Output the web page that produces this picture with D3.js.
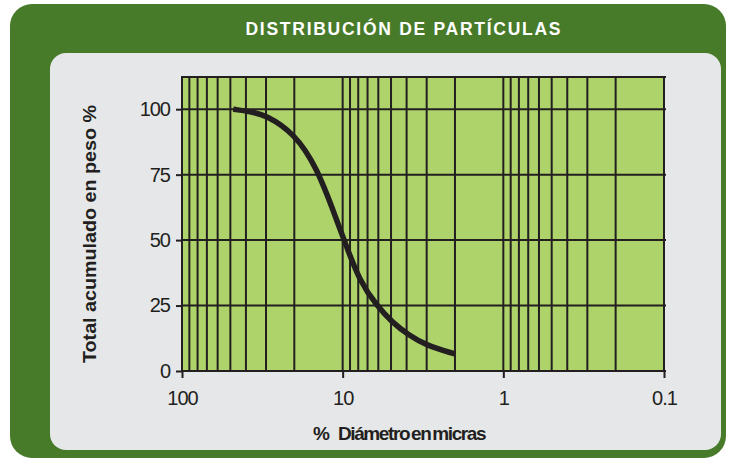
<!DOCTYPE html>
<head>
<meta charset="utf-8">
<style>
body { margin: 0; background: #fff; }
svg { display: block; font-family: "Liberation Sans", Arial, sans-serif; }
.grid line { stroke: #231f20; stroke-width: 2px; }
.axis path { display: none; }
.axis line { stroke: #231f20; stroke-width: 2px; }
.axis text { font-size: 20px; fill: #231f20; letter-spacing: -1px; }
.curve { fill: none; stroke: #231f20; stroke-width: 5.5px; }
</style>
<script src="https://cdn.jsdelivr.net/npm/d3@7"></script>
</head>
<body>
<svg width="738" height="459"></svg>
<script>

// particle size (micras) and cumulative weight %
var diameters = [48, 37.7, 30, 20, 14.5, 10.9, 9.65, 7.8, 6.1, 4.9, 3.9, 3.05, 2];
var cumulative = [100, 99.1, 97.8, 90.8, 78, 57.7, 48.9, 34, 24.8, 18.5, 13.8, 9.9, 6.5];
var xTickValues = [100, 10, 1, 0.1];
var xTickLabels = ["100", "10", "1", "0.1"];
var yTickValues = [0, 25, 50, 75, 100];

var svg = d3.select("svg"),
    margin = {top: 77, right: 74, bottom: 88, left: 182},
    width = svg.attr("width") - margin.left - margin.right,
    height = svg.attr("height") - margin.top - margin.bottom;

// frame
svg.append("rect")
    .attr("x", 10).attr("y", 4)
    .attr("width", 716).attr("height", 454)
    .attr("rx", 22)
    .attr("fill", "#477b2a");

svg.append("rect")
    .attr("x", 50).attr("y", 53)
    .attr("width", 671).attr("height", 397)
    .attr("rx", 16)
    .attr("fill", "#e6e7e8");

svg.append("text")
    .attr("x", 403).attr("y", 35)
    .attr("text-anchor", "middle")
    .attr("fill", "#fff")
    .style("font-size", "17.5px")
    .style("font-weight", "bold")
    .attr("textLength", 315)
    .attr("lengthAdjust", "spacing")
    .text("DISTRIBUCIÓN DE PARTÍCULAS");

var g = svg.append("g").attr("transform", "translate(" + margin.left + "," + margin.top + ")");

var x = d3.scaleLog()
    .domain([100, 0.1])
    .range([0, width]);

var y = d3.scaleLinear()
    .domain([0, 112.3])
    .range([height, 0]);

g.append("rect")
    .attr("width", width)
    .attr("height", height)
    .attr("fill", "#aed36b");

// vertical grid at every log tick
g.append("g")
    .attr("class", "grid")
  .selectAll("line")
  .data(x.ticks())
  .enter().append("line")
    .attr("x1", function(d) { return x(d); })
    .attr("x2", function(d) { return x(d); })
    .attr("y1", 0)
    .attr("y2", height);

// horizontal grid + top border
g.append("g")
    .attr("class", "grid")
  .selectAll("line")
  .data(yTickValues.concat([y.domain()[1]]))
  .enter().append("line")
    .attr("x1", -1)
    .attr("x2", width + 2)
    .attr("y1", function(d) { return y(d); })
    .attr("y2", function(d) { return y(d); });

g.append("g")
    .attr("class", "axis axis--x")
    .attr("transform", "translate(0," + height + ")")
    .call(d3.axisBottom(x)
      .tickValues(xTickValues)
      .tickFormat(function(d, i) { return xTickLabels[i]; })
      .tickSize(7)
      .tickPadding(13));

g.append("g")
    .attr("class", "axis axis--y")
    .call(d3.axisLeft(y)
      .tickValues(yTickValues)
      .tickSize(6)
      .tickPadding(6));

var line = d3.line()
    .x(function(d) { return x(d[0]); })
    .y(function(d) { return y(d[1]); })
    .curve(d3.curveBasis);

g.append("path")
    .attr("class", "curve")
    .attr("d", line(d3.zip(diameters, cumulative)));

// axis titles
svg.append("text")
    .attr("transform", "translate(96,234) rotate(-90)")
    .attr("text-anchor", "middle")
    .attr("fill", "#231f20")
    .style("font-size", "19px")
    .style("font-weight", "bold")
    .attr("textLength", 258)
    .attr("lengthAdjust", "spacingAndGlyphs")
    .text("Total acumulado en peso %");

var xTitle = svg.append("text")
    .attr("x", 313).attr("y", 440)
    .attr("fill", "#231f20")
    .style("font-size", "19px")
    .style("font-weight", "bold");

xTitle.append("tspan").text("%");
xTitle.append("tspan")
    .attr("x", 338)
    .style("letter-spacing", "-1.4px")
    .style("word-spacing", "-2px")
    .text("Diámetro en micras");

</script>
</body>
</html>
